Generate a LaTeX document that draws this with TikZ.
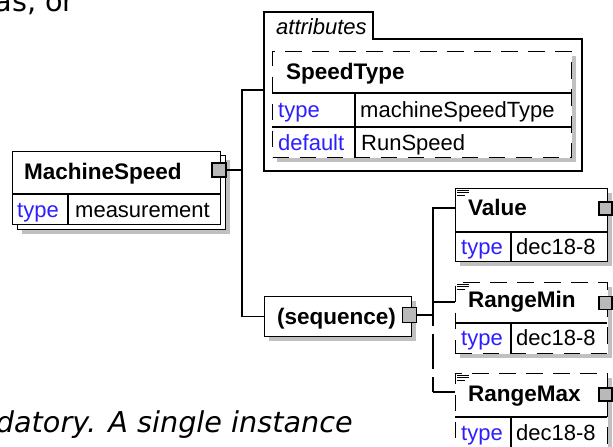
\documentclass[tikz,border=0pt]{standalone}
\usepackage{fontspec}
\setmainfont{Liberation Sans}
\newfontfamily\verdfont{DejaVu Sans}
\definecolor{typeblue}{RGB}{45,30,255}
\definecolor{shgray}{RGB}{192,192,192}
\definecolor{sqgray}{RGB}{185,185,185}
\tikzset{
  boxframe/.style={draw=black, line width=1.3pt, fill=white, inner sep=0pt, anchor=north west},
  dashframe/.style={boxframe, dash pattern=on 16.5pt off 10.5pt},
  shadowbox/.style={fill=shgray, draw=none, inner sep=0pt, anchor=north west},
  divline/.style={draw=black, line width=1.3pt},
  wire/.style={draw=black, line width=1.3pt},
  dwire/.style={wire, dash pattern=on 24pt off 8pt on 35pt off 8pt on 40pt},
  portsq/.style={draw=black, line width=1.2pt, fill=sqgray, inner sep=0pt, minimum width=13pt, minimum height=13pt},
  eltext/.style={font=\fontsize{22.5}{26}\selectfont\bfseries, anchor=base west, inner sep=0pt},
  keytext/.style={font=\fontsize{22}{26}\selectfont, text=typeblue, anchor=base west, inner sep=0pt},
  valtext/.style={font=\fontsize{22}{26}\selectfont, anchor=base west, inner sep=0pt},
  prose/.style={font=\verdfont\fontsize{28.7}{32}\selectfont, anchor=base east, inner sep=0pt},
  docicon/.style={draw=black, line width=0.9pt},
}
\begin{document}
\begin{tikzpicture}[x=1pt,y=-1pt]
\useasboundingbox (0,0) rectangle (613,447);
\fill[white] (0,0) rectangle (613,447);

% surrounding prose
\node[prose] (p1) at (75,11) {as, or};
\node[prose, font=\verdfont\itshape\fontsize{28.7}{32}\selectfont] (p2) at (353,432) {datory. A single instance};

% attributes group
\draw[wire, fill=white] (264,171) -- (264,12) -- (373,12) -- (373,39) -- (582,39) -- (582,171) -- cycle;
\node[font=\fontsize{22}{26}\selectfont\itshape, anchor=base west, inner sep=0pt] (attrlbl) at (276,34) {attributes};

% SpeedType attribute
\node[shadowbox, minimum width=299pt, minimum height=106pt] (stsh) at (277,56) {};
\node[dashframe, minimum width=299pt, minimum height=106pt] (st) at (272,51) {};
\draw[divline] (272,93) -- (571,93);
\draw[divline] (272,127) -- (571,127);
\draw[divline] (355,93) -- (355,157);
\node[eltext] (stname) at (286,79) {SpeedType};
\node[keytext] (stk1) at (278,117) {type};
\node[valtext] (stv1) at (360,117) {machineSpeedType};
\node[keytext] (stk2) at (278,150) {default};
\node[valtext] (stv2) at (361,150) {RunSpeed};

% MachineSpeed
\node[shadowbox, minimum width=208pt, minimum height=74pt] (mssh) at (22,160) {};
\node[boxframe, minimum width=208pt, minimum height=74pt] (msback) at (17,155) {};
\node[boxframe, minimum width=208pt, minimum height=73pt] (ms) at (12,151) {};
\draw[divline] (12,194) -- (220,194);
\draw[divline] (68,194) -- (68,224);
\node[eltext] (msname) at (24,179) {MachineSpeed};
\node[keytext] (msk) at (17,217) {type};
\node[valtext] (msv) at (75,217) {measurement};
\node[portsq, minimum width=14pt, minimum height=14pt] (msport) at (219,170) {};

% sequence
\node[shadowbox, minimum width=147pt, minimum height=40pt] (seqsh) at (269,301) {};
\node[boxframe, minimum width=147pt, minimum height=40pt] (seq) at (264,296) {};
\node[eltext] (seqlbl) at (277,324) {(sequence)};
\node[portsq, minimum width=14pt, minimum height=15pt] (seqport) at (409.5,315) {};

% Value
\node[shadowbox, minimum width=152pt, minimum height=73pt] (vsh) at (460,193) {};
\node[boxframe, minimum width=152pt, minimum height=73pt] (val) at (455,188) {};
\draw[divline] (455,232) -- (607,232);
\draw[divline] (511,232) -- (511,261);
\draw[docicon] (457,190) -- (469,190) (457,192.7) -- (469,192.7) (457,195.4) -- (465,195.4);
\node[eltext] (vname) at (468,215) {Value};
\node[keytext] (vk) at (461,254) {type};
\node[valtext] (vv) at (516,254) {dec18-8};
\node[portsq] (vport) at (605.5,208.5) {};

% RangeMin
\node[shadowbox, minimum width=152pt, minimum height=71pt] (rnsh) at (460,287) {};
\node[dashframe, minimum width=152pt, minimum height=71pt] (rmin) at (455,282) {};
\draw[divline] (455,323) -- (607,323);
\draw[divline] (511,323) -- (511,353);
\draw[docicon] (457,284) -- (469,284) (457,286.7) -- (469,286.7) (457,289.4) -- (465,289.4);
\node[eltext] (rnname) at (468,307) {RangeMin};
\node[keytext] (rnk) at (461,345) {type};
\node[valtext] (rnv) at (516,345) {dec18-8};
\node[portsq] (rnport) at (605.5,303) {};

% RangeMax
\node[shadowbox, minimum width=152pt, minimum height=80pt] (rxsh) at (460,378) {};
\node[dashframe, minimum width=152pt, minimum height=80pt] (rmax) at (455,373) {};
\draw[divline] (455,417) -- (607,417);
\draw[divline] (511,417) -- (511,453);
\draw[docicon] (457,375) -- (469,375) (457,377.7) -- (469,377.7) (457,380.4) -- (465,380.4);
\node[eltext] (rxname) at (468,401) {RangeMax};
\node[keytext] (rxk) at (461,440) {type};
\node[valtext] (rxv) at (516,440) {dec18-8};
\node[portsq] (rxport) at (605.5,394.5) {};

% connectors
\coordinate (attrin) at (264,90);
\coordinate (jms) at (242,170);
\draw[wire] (msport.east) -- (jms);
\draw[wire] (jms) |- (attrin);
\draw[wire] (jms) |- (seq.west);

\coordinate (jseq) at (433,315);
\coordinate (vin) at (455,208);
\coordinate (minin) at (455,302);
\coordinate (maxin) at (455,392);
\coordinate (jmin) at (433,302);
\coordinate (jmax) at (433,392);
\draw[wire] (seqport.east) -- (jseq);
\draw[wire] (vin) -| (jseq);
\draw[wire] (jmin) -- (minin);
\draw[dwire] (jmin) -- (jmax);
\draw[wire] (jmax) -- (maxin);
\end{tikzpicture}
\end{document}
